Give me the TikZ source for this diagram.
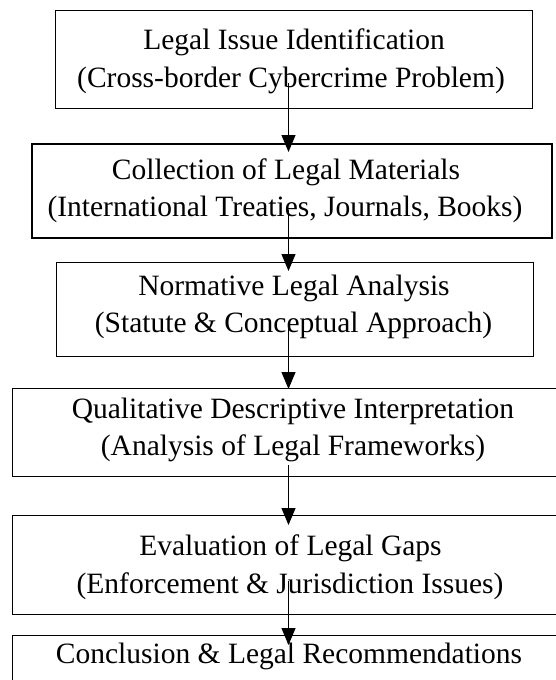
\documentclass[tikz,border=0pt]{standalone}
\usepackage{fontspec}
\setmainfont{Liberation Serif}
\usetikzlibrary{arrows.meta}
\begin{document}
\begin{tikzpicture}[x=1pt,y=-1pt,
  box/.style={draw,line width=1.3pt,inner sep=0pt,anchor=north west},
  txt/.style={font=\fontsize{29.5}{37}\selectfont,anchor=base,inner sep=0pt},
  arr/.style={line width=1pt,-{Triangle[length=17pt,width=14pt]}}]
\useasboundingbox (0,0) rectangle (555,680);
\fill[white] (0,0) rectangle (555,680);
\coordinate (ax) at (288.5,0);
% boxes
\node[box,minimum width=477pt,minimum height=98pt] (b1) at (55,10) {};
\node[box,line width=1.8pt,minimum width=520pt,minimum height=94pt] (b2) at (31,143) {};
\node[box,minimum width=477pt,minimum height=94pt] (b3) at (55.5,262) {};
\node[box,minimum width=563pt,minimum height=88pt] (b4) at (12,388) {};
\node[box,minimum width=563pt,minimum height=99pt] (b5) at (12,515) {};
\node[box,minimum width=563pt,minimum height=100pt] (b6) at (12,635) {};
% texts
\node[txt] (t1a) at (294,49) {Legal Issue Identification};
\node[txt] (t1b) at (291,87) {(Cross-border Cybercrime Problem)};
\node[txt] (t2a) at (286,179) {Collection of Legal Materials};
\node[txt] (t2b) at (285,216) {(International Treaties, Journals, Books)};
\node[txt] (t3a) at (294,295) {Normative Legal Analysis};
\node[txt] (t3b) at (293.5,332) {(Statute \& Conceptual Approach)};
\node[txt] (t4a) at (293,418) {Qualitative Descriptive Interpretation};
\node[txt] (t4b) at (293,455) {(Analysis of Legal Frameworks)};
\node[txt] (t5a) at (290.5,555) {Evaluation of Legal Gaps};
\node[txt] (t5b) at (290,593) {(Enforcement \& Jurisdiction Issues)};
\node[txt] (t6a) at (289,663) {Conclusion \& Legal Recommendations};
% arrows
\draw[arr] ([yshift=26pt]b1.south -| ax) -- ([yshift=-9pt]b2.north -| ax);
\draw[arr] ([yshift=29pt]b2.south -| ax) -- ([yshift=-9pt]b3.north -| ax);
\draw[arr] ([yshift=32pt]b3.south -| ax) -- ([yshift=-1pt]b4.north -| ax);
\draw[arr] ([yshift=12pt]b4.south -| ax) -- ([yshift=-10pt]b5.north -| ax);
\draw[arr] ([yshift=34pt]b5.south -| ax) -- ([yshift=-10pt]b6.north -| ax);
\end{tikzpicture}
\end{document}
